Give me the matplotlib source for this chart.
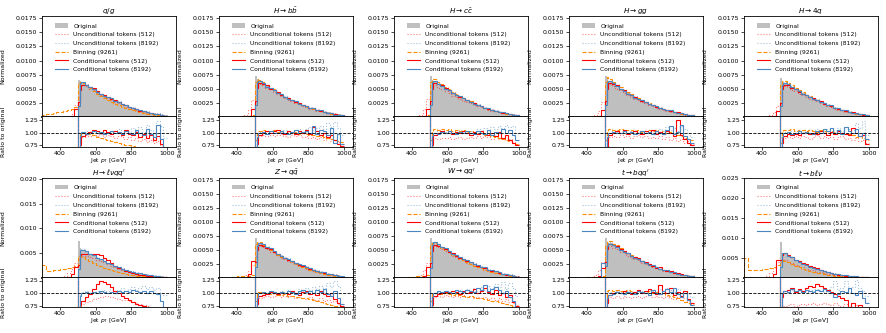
import numpy as np
import matplotlib.pyplot as plt

# bin edges in GeV (first bin above 500 split to show the turn-on spike)
edges = np.array([300, 320, 340, 360, 380, 400, 420, 440, 460, 480, 500, 510, 520, 540, 560, 580, 600,
                  620, 640, 660, 680, 700, 720, 740, 760, 780, 800, 820, 840, 860, 880, 900, 920,
                  940, 960, 980, 1000])

# original histograms above 500 GeV, units of 1e-4
qg_orig = [66, 64, 61, 57, 53, 49, 45, 41, 38, 35, 32, 29, 26, 23.5, 21, 18.5, 16, 14, 12, 10.5, 9, 7.5, 6.3, 5.2, 4.2, 3.4]
hbb_orig = [72, 67, 63, 59, 55, 51, 47, 43, 39, 36, 33, 30, 27, 24, 21.5, 19, 16.5, 14.5, 12.5, 11, 9.5, 8, 6.7, 5.5, 4.5, 3.6]
hcc_orig = [73, 66, 63, 59, 55, 51, 47, 43, 39, 36, 33, 30, 27, 24, 21.5, 19, 16.5, 14.5, 12.5, 11, 9.5, 8, 6.7, 5.5, 4.5, 3.6]
hgg_orig = [72, 68, 64, 59, 55, 50, 46, 42, 39, 35, 32, 29, 26, 23.5, 21, 18.5, 16, 14, 12, 10.5, 9, 7.7, 6.5, 5.4, 4.4, 3.5]
h4q_orig = [70, 62, 61, 58, 54, 50, 46, 42, 39, 36, 33, 30, 27, 24, 21.5, 19, 16.5, 14.5, 12.5, 11, 9.5, 8, 6.7, 5.5, 4.5, 3.6]
hlv_orig = [75, 60, 57, 53, 49, 45, 41, 37, 33, 30, 27, 24, 21, 18.5, 16, 14, 12, 10.5, 9, 7.8, 6.7, 5.7, 4.8, 4, 3.3, 2.7]
zqq_orig = [72, 64, 63, 59, 55, 51, 47, 43, 39, 36, 33, 30, 27, 24, 21.5, 19, 16.5, 14.5, 12.5, 11, 9.5, 8, 6.7, 5.5, 4.5, 3.6]
wqq_orig = [72, 64, 63, 59, 55, 51, 47, 43, 39, 36, 33, 30, 27, 24, 21.5, 19, 16.5, 14.5, 12.5, 11, 9.5, 8, 6.7, 5.5, 4.5, 3.6]
tbq_orig = [71, 64, 63, 59, 55, 51, 47, 43, 39, 36, 33, 30, 27, 24, 21.5, 19, 16.5, 14.5, 12.5, 11, 9.5, 8, 6.7, 5.5, 4.5, 3.6]
tbl_orig = [90, 64, 60, 54, 49, 44, 39, 35, 31, 27, 24, 21, 18.5, 16, 14, 12, 10.5, 9, 7.8, 6.7, 5.7, 4.8, 4, 3.3, 2.7, 2.2]

# ratios to original above 500 GeV, in percent
qg_u512 = [55, 80, 92, 95, 93, 96, 94, 97, 92, 95, 93, 90, 94, 91, 88, 92, 86, 90, 84, 88, 82, 86, 80, 84, 76, 70]
qg_u8192 = [50, 96, 100, 102, 99, 103, 100, 98, 104, 101, 99, 103, 106, 100, 104, 99, 108, 103, 110, 101, 114, 105, 98, 122, 112, 90]
qg_bin = [90, 98, 100, 99, 97, 95, 92, 90, 88, 86, 84, 82, 80, 78, 76, 75, 73, 72, 70, 68, 66, 64, 62, 60, 58, 55]
qg_c512 = [40, 75, 93, 98, 101, 104, 102, 99, 104, 101, 98, 103, 100, 96, 104, 98, 95, 101, 92, 97, 90, 96, 85, 93, 78, 70]
qg_c8192 = [30, 94, 101, 98, 100, 102, 99, 101, 97, 100, 103, 99, 101, 98, 102, 100, 97, 104, 99, 95, 106, 98, 92, 115, 88, 62]

hbb_u512 = [60, 85, 93, 95, 94, 96, 93, 95, 97, 94, 92, 96, 93, 95, 91, 94, 90, 92, 88, 91, 86, 89, 84, 86, 82, 78]
hbb_u8192 = [55, 97, 101, 103, 100, 102, 104, 99, 101, 105, 102, 100, 104, 107, 101, 106, 110, 104, 108, 112, 106, 118, 110, 120, 108, 95]
hbb_bin = [85, 100, 103, 104, 103, 102, 104, 101, 103, 100, 102, 99, 101, 98, 100, 97, 95, 96, 93, 94, 91, 90, 88, 86, 84, 82]
hbb_c512 = [40, 78, 95, 100, 103, 99, 102, 104, 100, 98, 102, 101, 97, 103, 100, 105, 98, 110, 102, 96, 100, 92, 95, 85, 78, 74]
hbb_c8192 = [30, 92, 100, 101, 98, 102, 100, 99, 103, 100, 98, 101, 104, 99, 101, 103, 100, 112, 98, 105, 102, 96, 108, 80, 98, 78]

hcc_u512 = [60, 82, 90, 88, 90, 89, 92, 88, 90, 91, 87, 90, 92, 89, 93, 90, 94, 91, 88, 92, 87, 90, 85, 88, 82, 78]
hcc_u8192 = [55, 96, 100, 102, 99, 101, 103, 98, 100, 104, 101, 99, 103, 100, 106, 102, 108, 104, 110, 106, 112, 108, 115, 110, 112, 100]
hcc_bin = [85, 102, 106, 105, 107, 104, 106, 103, 105, 102, 104, 101, 103, 100, 98, 99, 96, 97, 94, 92, 90, 88, 85, 83, 80, 78]
hcc_c512 = [40, 76, 96, 99, 102, 100, 103, 98, 101, 99, 103, 100, 96, 101, 98, 102, 97, 95, 99, 94, 101, 90, 96, 86, 80, 75]
hcc_c8192 = [30, 94, 100, 98, 101, 99, 102, 100, 98, 101, 100, 103, 99, 97, 102, 100, 98, 104, 96, 101, 99, 106, 100, 104, 96, 85]

hgg_u512 = [60, 82, 92, 94, 91, 95, 92, 94, 90, 93, 95, 91, 93, 89, 92, 90, 94, 88, 91, 86, 89, 84, 87, 80, 83, 78]
hgg_u8192 = [55, 97, 100, 102, 101, 99, 103, 100, 102, 104, 100, 103, 99, 105, 102, 100, 106, 103, 110, 104, 108, 102, 112, 106, 100, 92]
hgg_bin = [85, 103, 106, 105, 104, 106, 103, 105, 104, 102, 104, 101, 103, 105, 102, 104, 100, 102, 99, 101, 97, 95, 93, 90, 88, 85]
hgg_c512 = [40, 72, 95, 99, 102, 100, 104, 98, 101, 103, 100, 97, 102, 99, 104, 98, 101, 97, 103, 99, 94, 124, 96, 88, 80, 76]
hgg_c8192 = [30, 92, 100, 101, 99, 100, 102, 99, 101, 98, 100, 103, 99, 101, 98, 102, 100, 97, 104, 113, 98, 101, 115, 93, 88, 80]

h4q_u512 = [60, 86, 90, 92, 89, 93, 90, 94, 91, 88, 92, 95, 90, 93, 89, 92, 87, 91, 93, 88, 90, 86, 89, 84, 86, 80]
h4q_u8192 = [55, 96, 101, 99, 102, 100, 103, 101, 99, 104, 102, 106, 100, 103, 107, 101, 105, 109, 103, 111, 106, 104, 118, 108, 122, 95]
h4q_bin = [80, 102, 105, 104, 106, 103, 105, 104, 102, 105, 103, 101, 104, 102, 100, 103, 101, 99, 100, 97, 98, 95, 92, 94, 90, 86]
h4q_c512 = [35, 80, 94, 97, 95, 98, 96, 99, 101, 97, 100, 98, 102, 99, 96, 101, 98, 103, 100, 97, 95, 108, 99, 93, 96, 78]
h4q_c8192 = [28, 92, 99, 101, 98, 100, 102, 99, 101, 100, 98, 103, 100, 107, 102, 108, 100, 104, 97, 110, 102, 99, 106, 94, 100, 88]

hlv_u512 = [50, 72, 78, 82, 85, 88, 90, 93, 95, 94, 92, 90, 89, 87, 86, 84, 82, 80, 78, 77, 75, 73, 72, 70, 68, 65]
hlv_u8192 = [50, 98, 102, 104, 101, 103, 105, 102, 106, 104, 108, 103, 106, 110, 104, 108, 112, 106, 110, 115, 108, 112, 106, 110, 100, 96]
hlv_bin = [60, 74, 73, 72, 70, 68, 66, 64, 62, 60, 58, 56, 55, 54, 52, 50, 48, 47, 46, 45, 44, 43, 42, 41, 40, 38]
hlv_c512 = [35, 76, 85, 92, 98, 108, 118, 124, 122, 118, 112, 105, 100, 95, 90, 86, 82, 79, 76, 74, 72, 70, 68, 66, 64, 60]
hlv_c8192 = [25, 95, 100, 102, 101, 103, 100, 104, 102, 100, 103, 101, 104, 102, 105, 103, 106, 104, 102, 105, 101, 104, 100, 98, 85, 70]

zqq_u512 = [55, 80, 90, 93, 95, 92, 94, 96, 93, 95, 92, 94, 90, 93, 91, 88, 92, 89, 86, 90, 84, 87, 82, 85, 78, 74]
zqq_u8192 = [50, 96, 100, 103, 101, 104, 102, 100, 105, 103, 107, 104, 101, 108, 105, 110, 106, 112, 108, 115, 110, 120, 112, 124, 115, 100]
zqq_bin = [85, 100, 102, 100, 101, 99, 100, 97, 96, 98, 95, 94, 92, 93, 90, 91, 88, 86, 84, 82, 80, 78, 76, 74, 72, 70]
zqq_c512 = [40, 78, 94, 97, 99, 102, 100, 98, 103, 101, 99, 104, 100, 97, 102, 105, 99, 101, 96, 104, 98, 94, 100, 88, 80, 74]
zqq_c8192 = [28, 90, 100, 103, 101, 104, 102, 100, 103, 101, 105, 102, 99, 104, 107, 102, 104, 100, 106, 103, 108, 98, 95, 105, 90, 78]

wqq_u512 = [55, 80, 92, 95, 93, 96, 94, 92, 95, 93, 96, 92, 94, 91, 93, 90, 92, 88, 91, 87, 90, 85, 88, 82, 80, 76]
wqq_u8192 = [50, 96, 101, 103, 100, 104, 102, 105, 101, 106, 103, 108, 104, 110, 105, 112, 107, 115, 110, 118, 112, 122, 108, 120, 110, 95]
wqq_bin = [85, 98, 100, 101, 99, 100, 98, 97, 99, 96, 95, 93, 94, 92, 90, 91, 88, 87, 85, 84, 82, 80, 78, 76, 74, 72]
wqq_c512 = [38, 76, 95, 98, 101, 103, 100, 104, 102, 99, 105, 101, 103, 108, 100, 104, 110, 102, 98, 106, 96, 100, 92, 96, 82, 74]
wqq_c8192 = [26, 92, 101, 104, 102, 105, 103, 101, 106, 104, 102, 107, 105, 103, 110, 106, 116, 104, 108, 112, 106, 100, 104, 92, 85, 72]

tbq_u512 = [60, 84, 92, 90, 94, 91, 95, 92, 90, 93, 95, 91, 94, 96, 92, 95, 93, 90, 94, 91, 88, 92, 86, 90, 84, 80]
tbq_u8192 = [55, 98, 103, 101, 104, 102, 100, 105, 103, 101, 106, 104, 102, 107, 105, 103, 108, 104, 110, 106, 103, 108, 100, 104, 98, 92]
tbq_bin = [80, 104, 106, 104, 107, 105, 103, 106, 104, 102, 105, 103, 101, 104, 100, 102, 98, 100, 96, 94, 92, 90, 86, 82, 80, 78]
tbq_c512 = [40, 80, 96, 100, 103, 101, 104, 102, 99, 103, 106, 100, 104, 108, 102, 98, 116, 104, 100, 110, 96, 102, 94, 104, 88, 80]
tbq_c8192 = [30, 90, 97, 99, 102, 100, 98, 103, 101, 99, 104, 102, 100, 97, 106, 101, 99, 104, 108, 102, 110, 98, 92, 100, 86, 76]

tbl_u512 = [40, 68, 74, 76, 78, 75, 77, 79, 76, 78, 80, 77, 79, 81, 78, 76, 80, 77, 74, 78, 75, 72, 76, 73, 70, 68]
tbl_u8192 = [50, 100, 104, 102, 106, 103, 108, 105, 102, 107, 104, 109, 106, 103, 108, 112, 125, 106, 110, 124, 108, 112, 126, 110, 105, 95]
tbl_bin = [45, 74, 72, 73, 71, 70, 69, 68, 67, 66, 65, 64, 63, 62, 61, 60, 59, 58, 57, 56, 55, 54, 53, 52, 51, 50]
tbl_c512 = [50, 92, 104, 106, 110, 103, 108, 104, 110, 114, 112, 118, 115, 110, 106, 102, 98, 94, 90, 86, 72, 80, 70, 76, 68, 60]
tbl_c8192 = [30, 100, 105, 103, 108, 104, 106, 103, 107, 105, 102, 106, 104, 108, 104, 100, 92, 98, 105, 102, 110, 100, 96, 104, 90, 80]

# generated entries below 500 GeV (300-500, 20 GeV bins), units of 1e-4
tail_small = [0, 0, 0, 0, 0, 0, 0, 0, 0, 0.5]
qg_tail_u512 = [0, 0, 0, 0, 0, 0, 0, 1, 6, 22]
qg_tail_bin = [4, 5, 6, 7, 8, 9, 10, 12, 14, 17]
qg_tail_c512 = [0, 0, 0, 0, 0, 0, 0, 0, 2, 14]
hbb_tail_u512 = [0, 0, 0, 0, 0, 0, 0, 3, 12, 30]
hbb_tail_bin = [0, 0, 0, 0, 0, 0, 1, 2, 2, 3]
hbb_tail_c512 = [0, 0, 0, 0, 0, 0, 0, 0, 2, 15]
hcc_tail_u512 = [0, 0, 0, 0, 0, 0, 0, 4, 14, 32]
hcc_tail_bin = [0, 0, 0, 0, 0, 0, 1, 1, 2, 3]
hcc_tail_c512 = [0, 0, 0, 0, 0, 0, 0, 0, 2, 14]
hgg_tail_u512 = [0, 0, 0, 0, 0, 0, 1, 3, 10, 26]
hgg_tail_bin = [0, 0, 0, 0, 0, 0, 0, 1, 1, 2]
hgg_tail_c512 = [0, 0, 0, 0, 0, 0, 0, 0, 2, 12]
h4q_tail_u512 = [0, 0, 0, 0, 0, 0, 1, 3, 8, 20]
h4q_tail_bin = [0, 0, 0, 0, 0, 0, 0, 1, 1, 2]
h4q_tail_c512 = [0, 0, 0, 0, 0, 0, 0, 0, 2, 10]
hlv_tail_u512 = [0, 0, 0, 0, 0, 2, 5, 10, 18, 30]
hlv_tail_bin = [27, 14, 15, 16, 17, 18, 19, 21, 23, 25]
hlv_tail_c512 = [0, 0, 0, 0, 0, 0, 0, 2, 8, 22]
zqq_tail_u512 = [0, 0, 0, 0, 0, 0, 2, 5, 12, 24]
zqq_tail_bin = [0, 0, 0, 0, 2, 3, 3, 4, 4, 5]
zqq_tail_c512 = [0, 0, 0, 0, 0, 0, 0, 0, 8, 30]
wqq_tail_u512 = [0, 0, 0, 0, 0, 0, 2, 6, 14, 26]
wqq_tail_bin = [0, 0, 0, 0, 1, 2, 3, 3, 4, 5]
wqq_tail_c512 = [0, 0, 0, 0, 0, 0, 0, 0, 3, 20]
tbq_tail_u512 = [0, 0, 0, 0, 0, 0, 2, 5, 14, 28]
tbq_tail_bin = [0, 0, 0, 0, 0, 1, 1, 2, 2, 3]
tbq_tail_c512 = [0, 0, 0, 0, 0, 0, 0, 0, 3, 18]
tbq_tail_c8192 = [0, 0, 0, 0, 0, 0, 0, 0, 0, 27]
tbl_tail_u512 = [0, 0, 0, 0, 0, 0, 5, 12, 25, 40]
tbl_tail_bin = [50, 20, 20, 21, 21, 22, 23, 25, 28, 32]
tbl_tail_c512 = [0, 0, 0, 0, 0, 0, 0, 0, 10, 45]

titles = [r'$q/g$', r'$H\rightarrow b\bar{b}$', r'$H\rightarrow c\bar{c}$', r'$H\rightarrow gg$', r'$H\rightarrow 4q$',
          r'$H\rightarrow \ell\nu qq^{\prime}$', r'$Z\rightarrow q\bar{q}$', r'$W\rightarrow qq^{\prime}$',
          r'$t\rightarrow bqq^{\prime}$', r'$t\rightarrow b\ell\nu$']
ytop = [0.0179, 0.0179, 0.0179, 0.0179, 0.0179, 0.0202, 0.0179, 0.0179, 0.0179, 0.0251]
ystep = [0.0025, 0.0025, 0.0025, 0.0025, 0.0025, 0.005, 0.0025, 0.0025, 0.0025, 0.005]

labels = ['Unconditional tokens (512)', 'Unconditional tokens (8192)', 'Binning (9261)',
          'Conditional tokens (512)', 'Conditional tokens (8192)']
styles = [dict(color='red', ls=':', alpha=0.5), dict(color='#4682b4', ls=':', alpha=0.5),
          dict(color='darkorange', ls='--'), dict(color='red', ls='-'), dict(color='#4a86c0', ls='-')]

panels = [
    (qg_orig, [qg_u512, qg_u8192, qg_bin, qg_c512, qg_c8192], [qg_tail_u512, tail_small, qg_tail_bin, qg_tail_c512, tail_small]),
    (hbb_orig, [hbb_u512, hbb_u8192, hbb_bin, hbb_c512, hbb_c8192], [hbb_tail_u512, tail_small, hbb_tail_bin, hbb_tail_c512, tail_small]),
    (hcc_orig, [hcc_u512, hcc_u8192, hcc_bin, hcc_c512, hcc_c8192], [hcc_tail_u512, tail_small, hcc_tail_bin, hcc_tail_c512, tail_small]),
    (hgg_orig, [hgg_u512, hgg_u8192, hgg_bin, hgg_c512, hgg_c8192], [hgg_tail_u512, tail_small, hgg_tail_bin, hgg_tail_c512, tail_small]),
    (h4q_orig, [h4q_u512, h4q_u8192, h4q_bin, h4q_c512, h4q_c8192], [h4q_tail_u512, tail_small, h4q_tail_bin, h4q_tail_c512, tail_small]),
    (hlv_orig, [hlv_u512, hlv_u8192, hlv_bin, hlv_c512, hlv_c8192], [hlv_tail_u512, tail_small, hlv_tail_bin, hlv_tail_c512, tail_small]),
    (zqq_orig, [zqq_u512, zqq_u8192, zqq_bin, zqq_c512, zqq_c8192], [zqq_tail_u512, tail_small, zqq_tail_bin, zqq_tail_c512, tail_small]),
    (wqq_orig, [wqq_u512, wqq_u8192, wqq_bin, wqq_c512, wqq_c8192], [wqq_tail_u512, tail_small, wqq_tail_bin, wqq_tail_c512, tail_small]),
    (tbq_orig, [tbq_u512, tbq_u8192, tbq_bin, tbq_c512, tbq_c8192], [tbq_tail_u512, tail_small, tbq_tail_bin, tbq_tail_c512, tbq_tail_c8192]),
    (tbl_orig, [tbl_u512, tbl_u8192, tbl_bin, tbl_c512, tbl_c8192], [tbl_tail_u512, tail_small, tbl_tail_bin, tbl_tail_c512, tail_small]),
]

W, H = 887, 333
fig = plt.figure(figsize=(W / 100, H / 100), dpi=100)

col_left = [42, 219, 394, 569, 744]
panel_w = 134
rows = [(216, 101, 186, 30), (55, 100, 26, 29)]  # main bottom, main height, ratio bottom, ratio height (px)

fs = 4.5
for i, (orig, ratios, tails) in enumerate(panels):
    r, c = divmod(i, 5)
    mb, mh, rb, rh = rows[r]
    x0 = col_left[c]
    ax = fig.add_axes([x0 / W, mb / H, panel_w / W, mh / H])
    axr = fig.add_axes([x0 / W, rb / H, panel_w / W, rh / H], sharex=ax)

    o = np.concatenate([np.zeros(10), np.array(orig) * 1e-4])
    ax.stairs(o, edges, fill=True, color='#bfbfbf', label='Original', lw=0)
    for rat, tail, lab, st in zip(ratios, tails, labels, styles):
        model = np.concatenate([np.array(tail) * 1e-4, np.array(orig) * 1e-4 * np.array(rat) / 100])
        ax.stairs(model, edges, lw=0.8, label=lab, **st)
        rr = np.full(len(o), np.nan)
        ok = o > 0
        rr[ok] = model[ok] / o[ok]
        rr[(~ok) & (model > 0)] = 5.0
        axr.stairs(rr, edges, baseline=None, lw=0.8, **st)

    ax.set_xlim(300, 1050)
    ax.set_ylim(0, ytop[i])
    ax.set_yticks(np.arange(ystep[i], ytop[i], ystep[i]))
    ax.tick_params(axis='x', length=0, labelbottom=False)
    ax.tick_params(axis='y', labelsize=fs, length=2, width=0.5, pad=1.5)
    for s in ax.spines.values():
        s.set_linewidth(0.6)
    ax.spines['bottom'].set_linewidth(1.3)
    ax.set_title(titles[i], fontsize=5.2, pad=1)
    ax.set_ylabel('Normalized', fontsize=fs)
    ax.yaxis.set_label_coords(-0.27, 0.5)
    ax.legend(loc='upper left', bbox_to_anchor=(0.07, 0.963), frameon=False, fontsize=4.3,
              handlelength=2.2, labelspacing=0.6, borderaxespad=0.2, handletextpad=0.85)

    axr.axhline(1.0, color='k', ls='--', lw=0.6)
    axr.set_ylim(0.72, 1.3)
    axr.set_yticks([0.75, 1.0, 1.25])
    axr.set_xticks([400, 600, 800, 1000])
    axr.tick_params(labelsize=fs, length=2, width=0.5, pad=0.8)
    for s in axr.spines.values():
        s.set_linewidth(0.6)
    axr.spines['top'].set_visible(False)
    axr.set_ylabel('Ratio to original', fontsize=fs)
    axr.yaxis.set_label_coords(-0.27, 0.5)
    axr.set_xlabel(r'Jet $p_{\mathrm{T}}$ [GeV]', fontsize=4.3, labelpad=0)

fig.savefig('out.png', dpi=100)
